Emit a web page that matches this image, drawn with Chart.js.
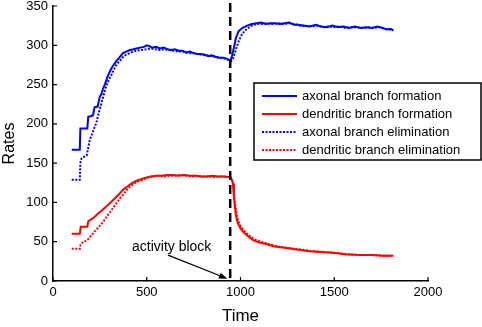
<!DOCTYPE html>
<html>
<head>
<meta charset="utf-8">
<script src="https://cdn.jsdelivr.net/npm/chart.js@4.4.0/dist/chart.umd.min.js"></script>
<style>
  html, body { margin: 0; padding: 0; background: #fff; }
  #wrap { width: 482px; height: 327px; }
</style>
</head>
<body>
<div id="wrap"><canvas id="c" width="482" height="327"></canvas></div>
<script>
// axonal branch formation (solid blue)
const axFormT = [100,143,146,183,188,205,213,222,238,249,258,267,276,285,294,302,315,329,342,356,373,391,410,430,445,465,485,500,515,530,550,570,590,610,630,650,670,690,710,730,750,770,790,810,830,850,870,890,910,925,940,947,955,965,975,990,1010,1035,1060,1085,1110,1135,1160,1185,1210,1235,1260,1285,1310,1340,1370,1400,1430,1460,1490,1520,1550,1580,1610,1640,1670,1700,1730,1760,1780,1800,1815];
const axFormV = [167,167,194,194,209,210,211,221,222,234,238,245,250,256,262,266,272,277,281,285,290,292,294,295,296,297,298,300,299,297,298,296,297,295,294,295,293,293,291,292,290,289,289,288,286,287,285,284,284,283,281,280,287,297,309,318,322,325,327,328,329,327,328,328,327,328,329,326,326,325,324,326,324,323,325,323,324,322,324,322,323,322,324,322,320,321,319];

// dendritic branch formation (solid red)
const deFormT = [100,143,148,183,188,213,228,240,262,285,307,329,351,373,395,418,440,462,490,520,550,580,610,640,670,700,730,765,790,818,850,880,910,945,952,960,965,970,974,980,987,1000,1013,1035,1067,1100,1138,1180,1245,1300,1369,1430,1493,1560,1636,1700,1760,1815];
const deFormV = [60,60,69,69,76,80,83,86,90,95,100,105,110,116,120,124,127,129,131,133,134,134,135,135,134,135,134,134,133,133,134,133,133,132,130,124,107,95,86,79,73,67,63,58,52,49,47,44,42,40,38,37,36,34,33,33,32,32];

// axonal branch elimination (dotted blue)
const axElimT = [100,143,146,152,165,180,190,196,205,213,222,231,240,249,258,267,276,285,298,311,325,338,356,373,391,409,427,445,470,498,520,545,570,595,620,645,670,695,720,745,770,795,820,845,870,895,920,940,950,960,975,990,1010,1035,1060,1085,1110,1140,1170,1200,1230,1260,1290,1320,1350,1380,1410,1440,1470,1500,1530,1560,1590,1620,1650,1680,1710,1740,1770,1795,1815];
const axElimV = [129,129,150,156,158,160,172,179,185,190,196,201,210,218,226,234,242,249,256,262,269,275,280,285,288,290,292,293,294,295,296,295,294,295,294,293,292,292,290,290,289,288,287,287,285,284,283,281,280,283,294,305,315,321,325,327,327,328,327,328,327,328,327,325,325,324,325,323,324,323,324,322,323,323,322,323,322,323,321,320,319];

// dendritic branch elimination (dotted red)
const deElimT = [100,143,147,160,175,187,205,222,245,267,290,311,333,356,378,400,422,445,470,498,530,560,590,620,650,680,710,740,770,800,830,860,890,920,945,955,962,968,975,982,990,1003,1020,1045,1075,1110,1150,1200,1260,1320,1380,1440,1500,1570,1640,1710,1770,1815];
const deElimV = [41,41,46,50,51,53,58,63,69,75,83,90,97,105,111,118,122,126,128,131,133,134,133,134,134,135,134,133,134,133,133,132,133,133,132,129,120,105,92,82,75,69,64,58,53,50,47,44,42,40,38,37,36,34,33,33,32,32];

const seriesNames = ['axonal branch formation', 'dendritic branch formation', 'axonal branch elimination', 'dendritic branch elimination'];

// activity block marker + annotation (data coords)
const blockTime = 945;
const blockText = 'activity block';
const blockTextAt = [633, 43];
const arrowFrom = [613, 33];
const arrowTo = [930, 3];

const BLUE = '#0000ff';
const RED = '#ff0000';
const FONT = '"Liberation Sans", Arial, sans-serif';
const DOTS = [2, 1.5];

const pts = (t, v) => t.map((x, i) => ({ x, y: v[i] }));

// ticks pointing into the plot, matlab style
const inwardTicks = {
    id: 'inward-ticks',
    afterDraw(chart) {
        const { ctx, scales: { x, y }, chartArea: a } = chart;
        ctx.save();
        ctx.strokeStyle = '#000';
        ctx.lineWidth = 1.2;
        ctx.beginPath();
        x.ticks.forEach(t => {
            const px = x.getPixelForValue(t.value);
            ctx.moveTo(px, a.bottom);
            ctx.lineTo(px, a.bottom - 4);
        });
        y.ticks.forEach(t => {
            const py = y.getPixelForValue(t.value);
            ctx.moveTo(a.left, py);
            ctx.lineTo(a.left + 4, py);
        });
        ctx.stroke();
        ctx.restore();
    },
};

// dashed line at the block + arrow with label
const blockMarker = {
    id: 'block-marker',
    afterDatasetsDraw(chart) {
        const { ctx, scales: { x, y }, chartArea: a } = chart;
        const bx = x.getPixelForValue(blockTime);
        ctx.save();
        ctx.strokeStyle = '#000';
        ctx.lineWidth = 2.5;
        ctx.setLineDash([9, 5]);
        ctx.beginPath();
        ctx.moveTo(bx, a.top - 3);
        ctx.lineTo(bx, a.bottom);
        ctx.stroke();
        ctx.setLineDash([]);

        const x0 = x.getPixelForValue(arrowFrom[0]), y0 = y.getPixelForValue(arrowFrom[1]);
        const x1 = x.getPixelForValue(arrowTo[0]), y1 = y.getPixelForValue(arrowTo[1]);
        const ang = Math.atan2(y1 - y0, x1 - x0);
        const head = 9;
        ctx.lineWidth = 1.3;
        ctx.beginPath();
        ctx.moveTo(x0, y0);
        ctx.lineTo(x1 - Math.cos(ang) * head * 0.8, y1 - Math.sin(ang) * head * 0.8);
        ctx.stroke();
        ctx.fillStyle = '#000';
        ctx.beginPath();
        ctx.moveTo(x1, y1);
        ctx.lineTo(x1 - head * Math.cos(ang - 0.35), y1 - head * Math.sin(ang - 0.35));
        ctx.lineTo(x1 - head * Math.cos(ang + 0.35), y1 - head * Math.sin(ang + 0.35));
        ctx.closePath();
        ctx.fill();

        ctx.font = '14px ' + FONT;
        ctx.textAlign = 'center';
        ctx.textBaseline = 'middle';
        ctx.fillText(blockText, x.getPixelForValue(blockTextAt[0]), y.getPixelForValue(blockTextAt[1]));
        ctx.restore();
    },
};

// boxed legend at the right
const boxLegend = {
    id: 'box-legend',
    afterDraw(chart) {
        const { ctx } = chart;
        const bx = 254, by = 83, bw = 227, bh = 77;
        ctx.save();
        ctx.fillStyle = '#fff';
        ctx.fillRect(bx, by, bw, bh);
        ctx.strokeStyle = '#000';
        ctx.lineWidth = 1.5;
        ctx.strokeRect(bx, by, bw, bh);
        ctx.font = '13px ' + FONT;
        ctx.textBaseline = 'middle';
        chart.data.datasets.forEach((ds, i) => {
            const ry = by + 13 + i * 18;
            ctx.strokeStyle = ds.borderColor;
            ctx.lineWidth = 2;
            ctx.setLineDash(ds.borderDash || []);
            ctx.beginPath();
            ctx.moveTo(bx + 8, ry);
            ctx.lineTo(bx + 43, ry);
            ctx.stroke();
            ctx.setLineDash([]);
            ctx.fillStyle = '#000';
            ctx.fillText(ds.label, bx + 48, ry);
        });
        ctx.restore();
    },
};

const line = (label, data, color, dash) => ({
    label,
    data,
    borderColor: color,
    borderWidth: 2,
    borderDash: dash || [],
    pointRadius: 0,
    fill: false,
    tension: 0,
});

new Chart(document.getElementById('c'), {
    type: 'line',
    plugins: [inwardTicks, blockMarker, boxLegend],
    data: {
        datasets: [
            line(seriesNames[0], pts(axFormT, axFormV), BLUE),
            line(seriesNames[1], pts(deFormT, deFormV), RED),
            line(seriesNames[2], pts(axElimT, axElimV), BLUE, DOTS),
            line(seriesNames[3], pts(deElimT, deElimV), RED, DOTS),
        ],
    },
    options: {
        responsive: false,
        animation: false,
        devicePixelRatio: 1,
        layout: { padding: { top: 6, right: 54, bottom: 0, left: 0 } },
        plugins: { legend: { display: false }, tooltip: { enabled: false } },
        scales: {
            x: {
                type: 'linear',
                min: 0,
                max: 2000,
                ticks: { stepSize: 500, color: '#000', font: { family: FONT, size: 13 }, padding: 4, maxRotation: 0, callback: v => String(v) },
                grid: { display: false, drawTicks: false },
                border: { color: '#000', width: 1.5 },
                title: { display: true, text: 'Time', color: '#000', font: { family: FONT, size: 17 }, padding: { top: 0, bottom: 0 } },
                afterFit(s) { s.height = 46; s.paddingLeft = 0; s.paddingRight = 0; },
            },
            y: {
                min: 0,
                max: 350,
                ticks: { stepSize: 50, color: '#000', font: { family: FONT, size: 13 }, padding: 5, callback: v => String(v) },
                grid: { display: false, drawTicks: false },
                border: { color: '#000', width: 1.5 },
                title: { display: true, text: 'Rates', color: '#000', font: { family: FONT, size: 16 }, padding: { top: 0, bottom: 0 } },
                afterFit(s) { s.width = 53; s.paddingTop = 0; s.paddingBottom = 0; },
            },
        },
    },
});
</script>
</body>
</html>
